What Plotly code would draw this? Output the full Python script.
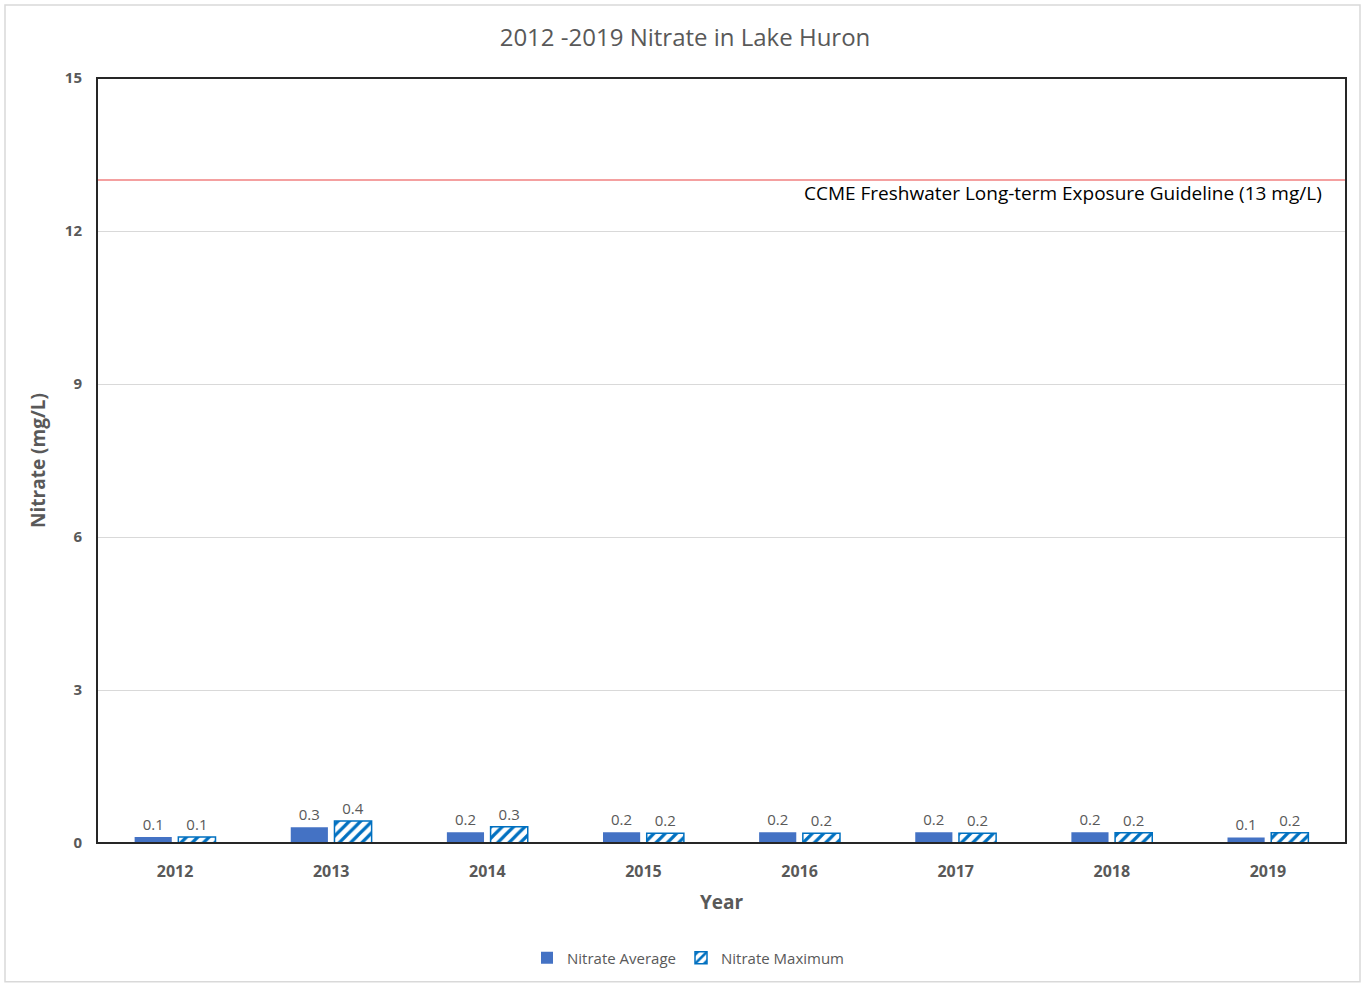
import plotly.graph_objects as go

years = ["2012", "2013", "2014", "2015", "2016", "2017", "2018", "2019"]
nitrate_avg = [0.12, 0.31, 0.21, 0.21, 0.21, 0.21, 0.21, 0.11]
nitrate_max = [0.12, 0.43, 0.32, 0.19, 0.19, 0.19, 0.20, 0.20]
y_ticks = [0, 3, 6, 9, 12, 15]
guideline = 13
guideline_label = "CCME Freshwater Long-term Exposure Guideline (13 mg/L)"

W, H = 1364, 985
ml, mr, mt, mb = 97, 18, 78, 141
pw, ph = W - ml - mr, H - mt - mb

def px2x(x):
    return (x - ml) / pw

def px2y(y):
    return (H - mb - y) / ph

gray = "#595959"
font = "Open Sans"

fig = go.Figure()
fig.add_trace(go.Bar(
    x=years, y=nitrate_avg, name="Nitrate Average",
    marker=dict(color="#4472C4", line=dict(width=0)),
    text=nitrate_avg, texttemplate="%{y:.1f}", textposition="outside",
    textfont=dict(color=gray, size=15, family=font), cliponaxis=False,
))
fig.add_trace(go.Bar(
    x=years, y=nitrate_max, name="Nitrate Maximum",
    marker=dict(color="white", line=dict(color="#0070C0", width=1.5),
                pattern=dict(shape="/", fgcolor="#0070C0", bgcolor="white",
                             fillmode="replace", size=8, solidity=0.4)),
    text=nitrate_max, texttemplate="%{y:.1f}", textposition="outside",
    textfont=dict(color=gray, size=15, family=font), cliponaxis=False,
))

fig.add_hline(y=guideline, line=dict(color="#F08080", width=1.5))
fig.add_annotation(x=px2x(1324), xref="paper", y=guideline, yref="y",
                   text=guideline_label, showarrow=False,
                   xanchor="right", yanchor="top", yshift=2,
                   font=dict(color="#000000", size=19, family=font))

# plot frame
fig.add_shape(type="rect", xref="paper", yref="paper", x0=0, x1=1, y0=0, y1=1,
              line=dict(color="#262626", width=2), layer="above")
# outer chart border
fig.add_shape(type="rect", xref="paper", yref="paper",
              x0=px2x(5), x1=px2x(1360), y0=px2y(983), y1=px2y(5),
              line=dict(color="#D9D9D9", width=1.5), layer="below")

fig.update_layout(
    width=W, height=H,
    margin=dict(l=ml, r=mr, t=mt, b=mb),
    paper_bgcolor="white", plot_bgcolor="white",
    barmode="group", bargap=0.44, bargroupgap=0.15,
    font=dict(family=font, color=gray),
    title=dict(text="2012 -2019 Nitrate in Lake Huron", x=685 / W,
               xanchor="center", y=1 - 38 / H, yanchor="middle",
               font=dict(size=24, color=gray, family=font)),
    showlegend=True,
    legend=dict(orientation="h", x=px2x(688), xanchor="center",
                y=px2y(958), yanchor="middle",
                font=dict(size=15, color=gray, family=font),
                itemwidth=30, tracegroupgap=0),
    xaxis=dict(
        title=dict(text="Year", font=dict(size=19, color=gray, family=font, weight="bold"), standoff=14),
        tickfont=dict(size=16, color=gray, family=font, weight="bold"),
        showline=True, linecolor="#BFBFBF", linewidth=1, ticks="",
        ticklabelstandoff=14,
        showgrid=False,
    ),
    yaxis=dict(
        title=dict(text="Nitrate (mg/L)", font=dict(size=19, color=gray, family=font, weight="bold"), standoff=14),
        range=[0, 15], tickvals=y_ticks,
        tickfont=dict(size=15, color=gray, family=font, weight="bold"),
        showgrid=True, gridcolor="#D9D9D9", gridwidth=1,
        zeroline=False, ticks="", ticklabelstandoff=14,
    ),
)

fig.write_html("out.html")
